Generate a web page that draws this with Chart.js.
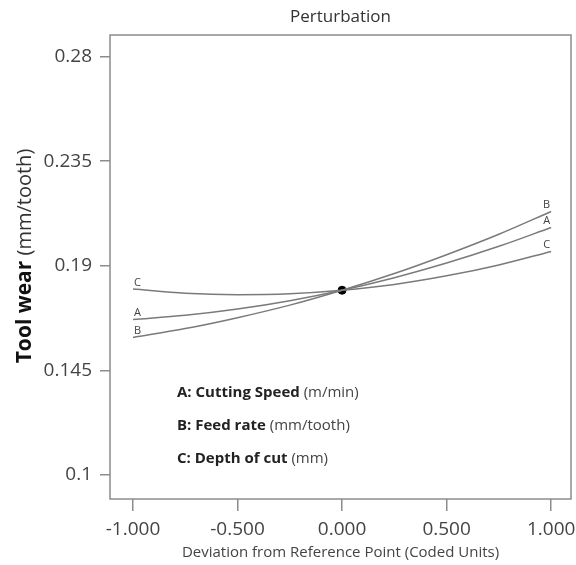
<!DOCTYPE html>
<html>
<head>
<meta charset="utf-8">
<script src="https://cdn.jsdelivr.net/npm/chart.js@4.4.0/dist/chart.umd.min.js"></script>
<style>
  html, body { margin: 0; padding: 0; background: #fff; }
  #wrap { width: 576px; height: 565px; }
</style>
</head>
<body>
<div id="wrap"><canvas id="grafico" width="576" height="565"></canvas></div>
<script>
// coded deviation from reference point
const xCoded = [-1, -0.75, -0.5, -0.25, 0, 0.25, 0.5, 0.75, 1];
// tool wear (mm/tooth)
const curvaA = [0.1669, 0.1687, 0.1714, 0.1750, 0.1795, 0.1849, 0.1912, 0.1984, 0.2065];
const curvaB = [0.1592, 0.1630, 0.1677, 0.1731, 0.1795, 0.1867, 0.1948, 0.2036, 0.2134];
const curvaC = [0.1800, 0.1782, 0.1776, 0.1780, 0.1795, 0.1820, 0.1857, 0.1904, 0.1962];
const nomes = ['A', 'B', 'C'];
const pontoRefX = [0];
const pontoRefY = [0.1795];

const yTicks = [0.1, 0.145, 0.19, 0.235, 0.28];
const xTicks = [-1, -0.5, 0, 0.5, 1];
const legendaFatores = [
  ['A: Cutting Speed', ' (m/min)'],
  ['B: Feed rate', ' (mm/tooth)'],
  ['C: Depth of cut', ' (mm)']
];

const fonte = '"Open Sans", "DejaVu Sans", sans-serif';
const corLinha = '#7a7a7a';

function pares(ys) {
  return xCoded.map((x, i) => ({ x: x, y: ys[i] }));
}

const curvas = [curvaA, curvaB, curvaC];

const extras = {
  id: 'extras',
  afterDatasetsDraw(chart) {
    const ctx = chart.ctx;
    const area = chart.chartArea;
    const sx = chart.scales.x, sy = chart.scales.y;
    ctx.save();

    // moldura
    ctx.strokeStyle = '#8c8c8c';
    ctx.lineWidth = 1.5;
    ctx.strokeRect(area.left, area.top, area.right - area.left, area.bottom - area.top);

    // letras nas pontas das curvas
    ctx.fillStyle = '#444';
    ctx.font = '11px ' + fonte;
    ctx.textBaseline = 'bottom';
    curvas.forEach((c, i) => {
      ctx.textAlign = 'left';
      ctx.fillText(nomes[i], sx.getPixelForValue(xCoded[0]) + 1, sy.getPixelForValue(c[0]) - 1);
      ctx.textAlign = 'right';
      ctx.fillText(nomes[i], sx.getPixelForValue(xCoded[xCoded.length - 1]) - 1, sy.getPixelForValue(c[c.length - 1]) - 1);
    });

    // legenda dos fatores
    ctx.textAlign = 'left';
    ctx.textBaseline = 'middle';
    legendaFatores.forEach((l, i) => {
      const x0 = area.left + 67;
      const y0 = area.top + 358 + i * 33;
      ctx.font = 'bold 15px ' + fonte;
      ctx.fillStyle = '#222';
      ctx.fillText(l[0], x0, y0);
      const w = ctx.measureText(l[0]).width;
      ctx.font = '15px ' + fonte;
      ctx.fillStyle = '#444';
      ctx.fillText(l[1], x0 + w, y0);
    });

    // titulo
    ctx.font = '17px ' + fonte;
    ctx.fillStyle = '#333';
    ctx.textAlign = 'center';
    ctx.fillText('Perturbation', (area.left + area.right) / 2, 17);

    // titulo do eixo y
    ctx.translate(25, 256);
    ctx.rotate(-Math.PI / 2);
    const p1 = 'Tool wear';
    const p2 = ' (mm/tooth)';
    ctx.font = 'bold 21px ' + fonte;
    const w1 = ctx.measureText(p1).width;
    ctx.font = '20px ' + fonte;
    const w2 = ctx.measureText(p2).width;
    const ini = -(w1 + w2) / 2;
    ctx.textAlign = 'left';
    ctx.fillStyle = '#111';
    ctx.font = 'bold 21px ' + fonte;
    ctx.fillText(p1, ini, 0);
    ctx.font = '20px ' + fonte;
    ctx.fillStyle = '#333';
    ctx.fillText(p2, ini + w1, 0);
    ctx.restore();
  }
};

const ctx = document.getElementById('grafico').getContext('2d');
const grafico = new Chart(ctx, {
  type: 'line',
  data: {
    datasets: [
      ...curvas.map((c, i) => ({
        label: nomes[i],
        data: pares(c),
        borderColor: corLinha,
        borderWidth: 1.5,
        pointRadius: 0,
        fill: false,
        cubicInterpolationMode: 'monotone'
      })),
      {
        type: 'scatter',
        label: 'ref',
        data: pontoRefX.map((x, i) => ({ x: x, y: pontoRefY[i] })),
        backgroundColor: '#000',
        borderColor: '#000',
        pointRadius: 4
      }
    ]
  },
  options: {
    responsive: false,
    animation: false,
    layout: { padding: { top: 35, right: 4, left: 0, bottom: 0 } },
    plugins: {
      legend: { display: false },
      tooltip: { enabled: false },
      title: { display: false }
    },
    scales: {
      x: {
        type: 'linear',
        min: -1.11,
        max: 1.095,
        afterBuildTicks: (s) => { s.ticks = xTicks.map(v => ({ value: v })); },
        afterFit: (s) => { s.height = 66; s.paddingLeft = 0; s.paddingRight = 0; },
        border: { display: false },
        grid: { drawOnChartArea: false, drawTicks: true, tickLength: 12, color: '#8c8c8c', lineWidth: 1.5 },
        ticks: {
          padding: 7,
          color: '#444',
          font: { family: fonte, size: 19 },
          callback: (v) => v.toFixed(3)
        },
        title: {
          display: true,
          text: 'Deviation from Reference Point (Coded Units)',
          color: '#444',
          font: { family: fonte, size: 15 },
          padding: { top: 0, bottom: 3 }
        }
      },
      y: {
        type: 'linear',
        min: 0.0897,
        max: 0.2893,
        afterBuildTicks: (s) => { s.ticks = yTicks.map(v => ({ value: v })); },
        afterFit: (s) => { s.width = 110; s.paddingTop = 0; s.paddingBottom = 0; },
        border: { display: false },
        grid: { drawOnChartArea: false, drawTicks: true, tickLength: 10, color: '#8c8c8c', lineWidth: 1.5 },
        ticks: {
          padding: 8,
          color: '#444',
          font: { family: fonte, size: 19 },
          callback: (v) => String(v)
        }
      }
    }
  },
  plugins: [extras]
});
</script>
</body>
</html>
